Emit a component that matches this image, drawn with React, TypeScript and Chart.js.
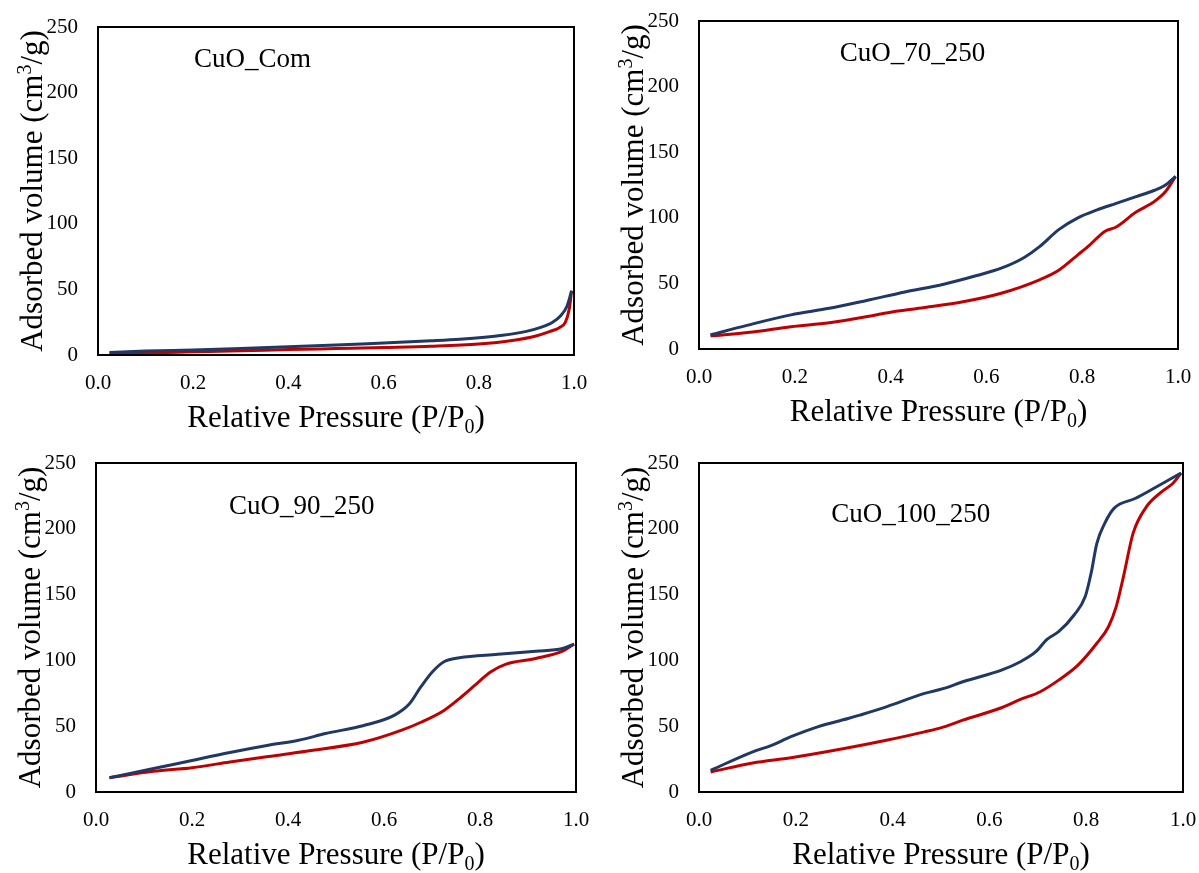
import React, { useEffect, useRef } from 'react';
import { Chart, registerables } from 'chart.js';

Chart.register(...registerables);

const FONT = '"Liberation Serif", "Times New Roman", serif';
const BLUE = '#203864';
const RED = '#C00000';

// ---- tick labels ----
const xTicks = [0, 0.2, 0.4, 0.6, 0.8, 1.0];
const yTicks = [0, 50, 100, 150, 200, 250];

// ---- CuO_Com ----
const comDesP = [0.024, 0.1, 0.2, 0.3, 0.4, 0.5, 0.6, 0.7, 0.76, 0.85, 0.9, 0.93, 0.955, 0.972, 0.985, 0.995];
const comDesV = [2.0, 3.0, 3.9, 5.0, 6.2, 7.6, 9.2, 10.8, 12, 15, 18, 21, 25, 30, 37, 49];
const comAdsP = [0.024, 0.1, 0.2, 0.3, 0.4, 0.5, 0.6, 0.7, 0.8, 0.87, 0.92, 0.95, 0.97, 0.982, 0.99, 0.995];
const comAdsV = [0.8, 1.6, 2.4, 3.2, 4.1, 4.9, 5.7, 6.6, 8.3, 11, 14.5, 18, 21, 25, 35, 49];

// ---- CuO_70_250 ----
const c70DesP = [0.024, 0.1, 0.192, 0.272, 0.35, 0.43, 0.511, 0.58, 0.631, 0.679, 0.711, 0.751, 0.791, 0.831, 0.871, 0.911, 0.951, 0.974, 0.995];
const c70DesV = [10.7, 18, 26, 31, 37, 43.5, 49.4, 56, 61.6, 69.8, 78, 91, 100, 106, 111, 116, 121, 125, 131.6];
const c70AdsP = [0.024, 0.112, 0.192, 0.272, 0.351, 0.391, 0.471, 0.551, 0.631, 0.711, 0.751, 0.791, 0.815, 0.847, 0.871, 0.911, 0.951, 0.974, 0.995];
const c70AdsV = [10, 13, 17, 20, 24.7, 27.5, 31.6, 36, 42.5, 52.7, 60, 71.8, 79, 89.6, 93, 104, 112.5, 120, 131.6];

// ---- CuO_90_250 ----
const c90DesP = [0.028, 0.12, 0.2, 0.279, 0.359, 0.422, 0.478, 0.558, 0.622, 0.653, 0.677, 0.701, 0.725, 0.757, 0.837, 0.916, 0.972, 0.996];
const c90DesV = [10.9, 17.8, 24, 30, 35.5, 39.3, 44.4, 50.5, 58.4, 67, 80, 91.4, 99, 102, 104.6, 107, 109, 112.4];
const c90AdsP = [0.028, 0.12, 0.2, 0.279, 0.359, 0.438, 0.558, 0.637, 0.677, 0.725, 0.757, 0.789, 0.821, 0.853, 0.916, 0.972, 0.996];
const c90AdsV = [10.9, 15.7, 18.5, 22.8, 27, 31, 38, 47, 53, 62, 71, 81, 91, 97, 101.5, 107, 112.4];

// ---- CuO_100_250 ----
const c100DesP = [0.024, 0.111, 0.15, 0.19, 0.245, 0.308, 0.332, 0.387, 0.466, 0.506, 0.545, 0.625, 0.664, 0.696, 0.719, 0.743, 0.775, 0.798, 0.81, 0.822, 0.838, 0.858, 0.901, 0.941, 0.996];
const c100DesV = [16.5, 30.5, 35.5, 42, 49.5, 55.8, 58.4, 64.7, 74.9, 78.7, 83.8, 92.6, 99, 106.6, 116, 121.8, 134.5, 148.5, 166, 189, 204, 215.7, 223, 231, 242.4];
const c100AdsP = [0.024, 0.111, 0.19, 0.3, 0.387, 0.466, 0.506, 0.545, 0.625, 0.664, 0.704, 0.743, 0.783, 0.822, 0.846, 0.862, 0.877, 0.897, 0.925, 0.957, 0.98, 0.996];
const c100AdsV = [15.2, 22, 26, 33, 39.3, 45.7, 49.5, 54.6, 64, 70.3, 76, 85, 96.4, 113, 125.6, 140.9, 163.7, 196.7, 217, 228.4, 234.8, 242.4];

type Part = [string, 'n' | 'sup' | 'sub'];
const X_TITLE: Part[] = [['Relative Pressure (P/P', 'n'], ['0', 'sub'], [')', 'n']];
const Y_TITLE: Part[] = [['Adsorbed volume (cm', 'n'], ['3', 'sup'], ['/g)', 'n']];

type Box = { left: number; top: number; right: number; bottom: number };
type Panel = {
  name: string;
  desP: number[]; desV: number[]; adsP: number[]; adsV: number[];
  canvas: { left: number; top: number; width: number; height: number };
  area: Box;
  label: { x: number; y: number };
};

const panels: Panel[] = [
  {
    name: 'CuO_Com', desP: comDesP, desV: comDesV, adsP: comAdsP, adsV: comAdsV,
    canvas: { left: 0, top: 0, width: 600, height: 437 },
    area: { left: 98, top: 27, right: 574, bottom: 355 },
    label: { x: 0.2017, y: 219.8 },
  },
  {
    name: 'CuO_70_250', desP: c70DesP, desV: c70DesV, adsP: c70AdsP, adsV: c70AdsV,
    canvas: { left: 600, top: 0, width: 599, height: 437 },
    area: { left: 699, top: 21, right: 1178, bottom: 349 },
    label: { x: 0.294, y: 219.5 },
  },
  {
    name: 'CuO_90_250', desP: c90DesP, desV: c90DesV, adsP: c90AdsP, adsV: c90AdsV,
    canvas: { left: 0, top: 437, width: 600, height: 436 },
    area: { left: 96, top: 463, right: 576, bottom: 792 },
    label: { x: 0.277, y: 211 },
  },
  {
    name: 'CuO_100_250', desP: c100DesP, desV: c100DesV, adsP: c100AdsP, adsV: c100AdsV,
    canvas: { left: 600, top: 437, width: 599, height: 436 },
    area: { left: 699, top: 463, right: 1183, bottom: 792 },
    label: { x: 0.273, y: 205 },
  },
];

function drawRich(ctx: CanvasRenderingContext2D, parts: Part[], cx: number, baseline: number, size: number) {
  const small = Math.round(size * 0.65);
  const widths: number[] = [];
  let total = 0;
  parts.forEach(([t, k]) => {
    ctx.font = `${k === 'n' ? size : small}px ${FONT}`;
    const w = ctx.measureText(t).width;
    widths.push(w);
    total += w;
  });
  let x = cx - total / 2;
  ctx.textAlign = 'left';
  ctx.textBaseline = 'alphabetic';
  parts.forEach(([t, k], i) => {
    ctx.font = `${k === 'n' ? size : small}px ${FONT}`;
    const dy = k === 'sup' ? -size * 0.36 : k === 'sub' ? size * 0.2 : 0;
    ctx.fillText(t, x, baseline + dy);
    x += widths[i];
  });
}

function makeDecor(p: Panel) {
  return {
    id: 'decor',
    afterDraw(chart: any) {
      const ctx: CanvasRenderingContext2D = chart.ctx;
      const a = chart.chartArea;
      ctx.save();
      ctx.strokeStyle = '#000';
      ctx.lineWidth = 2;
      ctx.strokeRect(a.left, a.top, a.right - a.left, a.bottom - a.top);
      ctx.fillStyle = '#000';
      drawRich(ctx, X_TITLE, (a.left + a.right) / 2, a.bottom + 72, 31);
      ctx.save();
      ctx.translate(a.left - 56, (a.top + a.bottom) / 2);
      ctx.rotate(-Math.PI / 2);
      drawRich(ctx, Y_TITLE, 0, 0, 31);
      ctx.restore();
      const lx = chart.scales.x.getPixelForValue(p.label.x);
      const ly = chart.scales.y.getPixelForValue(p.label.y);
      ctx.font = `27px ${FONT}`;
      ctx.textAlign = 'left';
      ctx.textBaseline = 'alphabetic';
      ctx.fillText(p.name, lx, ly);
      ctx.restore();
    },
  };
}

function zeroPadding(s: any) {
  s.paddingTop = 0;
  s.paddingBottom = 0;
  s.paddingLeft = 0;
  s.paddingRight = 0;
}

function IsothermChart({ p }: { p: Panel }) {
  const ref = useRef<HTMLCanvasElement | null>(null);
  useEffect(() => {
    if (!ref.current) return;
    const c = p.canvas;
    const a = p.area;
    const chart = new Chart(ref.current, {
      type: 'line',
      data: {
        datasets: [
          {
            label: 'Desorption',
            data: p.desP.map((x, i) => ({ x, y: p.desV[i] })),
            borderColor: BLUE,
            borderWidth: 3,
            pointRadius: 0,
            fill: false,
            cubicInterpolationMode: 'monotone',
          },
          {
            label: 'Adsorption',
            data: p.adsP.map((x, i) => ({ x, y: p.adsV[i] })),
            borderColor: RED,
            borderWidth: 3,
            pointRadius: 0,
            fill: false,
            cubicInterpolationMode: 'monotone',
          },
        ],
      },
      options: {
        responsive: false,
        animation: false,
        events: [],
        layout: {
          padding: {
            left: 0,
            top: a.top - c.top,
            right: c.left + c.width - a.right,
            bottom: 0,
          },
        },
        plugins: { legend: { display: false }, tooltip: { enabled: false } },
        scales: {
          x: {
            type: 'linear',
            min: 0,
            max: 1,
            grid: { display: false, drawTicks: false },
            border: { display: false },
            afterBuildTicks: (s: any) => { s.ticks = xTicks.map((v) => ({ value: v })); },
            afterFit: (s: any) => { s.height = c.top + c.height - a.bottom; zeroPadding(s); },
            ticks: {
              padding: 16,
              color: '#000',
              maxRotation: 0,
              autoSkip: false,
              font: { family: FONT, size: 21 },
              callback: (v: any) => Number(v).toFixed(1),
            },
          },
          y: {
            type: 'linear',
            min: 0,
            max: 250,
            grid: { display: false, drawTicks: false },
            border: { display: false },
            afterBuildTicks: (s: any) => { s.ticks = yTicks.map((v) => ({ value: v })); },
            afterFit: (s: any) => { s.width = a.left - c.left; zeroPadding(s); },
            ticks: {
              padding: 20,
              color: '#000',
              autoSkip: false,
              font: { family: FONT, size: 21 },
              callback: (v: any) => String(v),
            },
          },
        },
      } as any,
      plugins: [makeDecor(p)],
    });
    return () => chart.destroy();
  }, [p]);
  return (
    <canvas
      ref={ref}
      width={p.canvas.width}
      height={p.canvas.height}
      style={{
        position: 'absolute',
        left: p.canvas.left,
        top: p.canvas.top,
        width: p.canvas.width,
        height: p.canvas.height,
      }}
    />
  );
}

export default function App() {
  return (
    <div style={{ position: 'absolute', left: 0, top: 0, width: 1199, height: 873, background: '#fff', overflow: 'hidden' }}>
      {panels.map((p) => (
        <IsothermChart key={p.name} p={p} />
      ))}
    </div>
  );
}
